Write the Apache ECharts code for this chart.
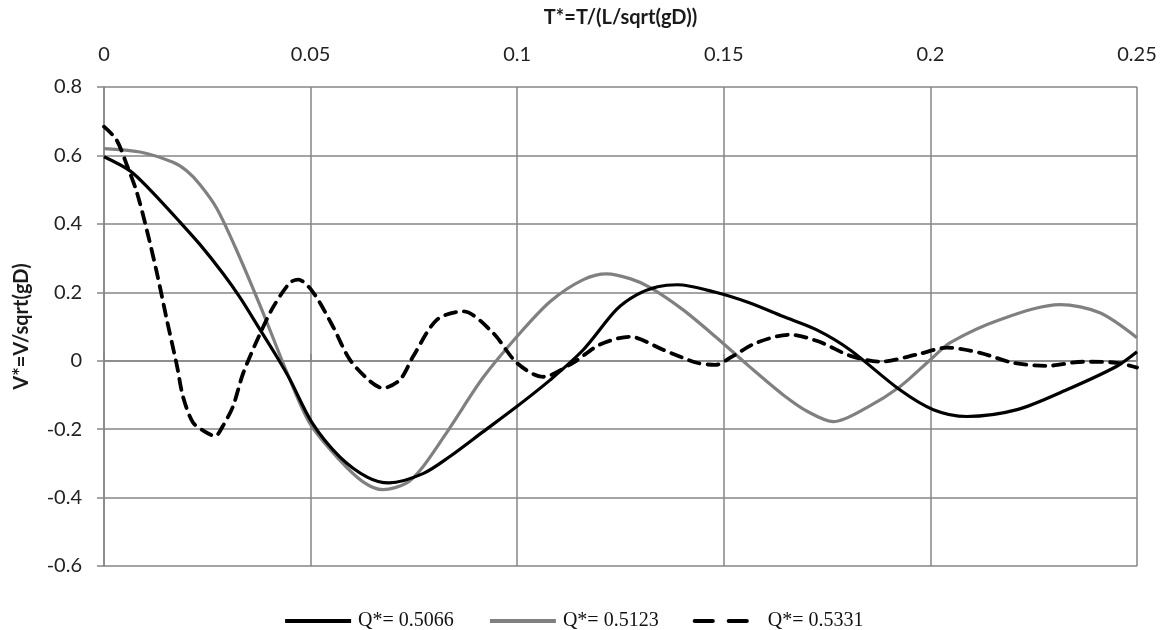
<!DOCTYPE html>
<html>
<head>
<meta charset="utf-8">
<script src="https://cdn.jsdelivr.net/npm/echarts@6/dist/echarts.min.js"></script>
<style>
html,body{margin:0;padding:0;background:#fff;}
#chart{width:1166px;height:630px;}
</style>
</head>
<body>
<div id="chart"></div>
<script>
// Axis ticks
const xTicks = [0, 0.05, 0.1, 0.15, 0.2, 0.25];
const yTicks = [-0.6, -0.4, -0.2, 0, 0.2, 0.4, 0.6, 0.8];

// Series names
const seriesNames = ['Q*= 0.5066', 'Q*= 0.5123', 'Q*= 0.5331'];

// Q* = 0.5066 (black solid)
const t1 = [0, 0.0063, 0.0111, 0.0184, 0.0232, 0.0288, 0.0329, 0.0378, 0.0419, 0.045, 0.0503, 0.057, 0.0637, 0.069, 0.0772, 0.0837, 0.0917, 0.0999, 0.108, 0.116, 0.124, 0.129, 0.134, 0.1387, 0.148, 0.156, 0.1644, 0.1725, 0.1805, 0.1926, 0.2007, 0.2088, 0.221, 0.233, 0.245, 0.25];
const v1 = [0.596, 0.555, 0.50, 0.405, 0.34, 0.255, 0.185, 0.09, 0.01, -0.055, -0.18, -0.28, -0.34, -0.357, -0.33, -0.28, -0.208, -0.134, -0.056, 0.032, 0.149, 0.193, 0.216, 0.222, 0.2, 0.17, 0.129, 0.09, 0.032, -0.085, -0.143, -0.163, -0.143, -0.085, -0.017, 0.026];

// Q* = 0.5123 (gray solid)
const t2 = [0, 0.0087, 0.0167, 0.020, 0.0232, 0.0273, 0.0322, 0.0385, 0.0443, 0.0499, 0.057, 0.0627, 0.0675, 0.0733, 0.0772, 0.0837, 0.0917, 0.0999, 0.108, 0.116, 0.1217, 0.1273, 0.132, 0.140, 0.148, 0.156, 0.1644, 0.1705, 0.1765, 0.1846, 0.1926, 0.2, 0.2048, 0.2168, 0.2314, 0.241, 0.25];
const v2 = [0.62, 0.61, 0.58, 0.555, 0.515, 0.445, 0.32, 0.14, -0.035, -0.185, -0.29, -0.354, -0.377, -0.357, -0.31, -0.196, -0.05, 0.07, 0.173, 0.237, 0.254, 0.24, 0.215, 0.15, 0.07, -0.015, -0.10, -0.15, -0.178, -0.137, -0.076, 0.003, 0.053, 0.12, 0.164, 0.14, 0.067];

// Q* = 0.5331 (black dashed)
const t3 = [0, 0.003, 0.0056, 0.008, 0.0104, 0.0128, 0.0152, 0.0177, 0.0191, 0.0215, 0.0244, 0.0269, 0.0288, 0.0312, 0.0337, 0.0378, 0.041, 0.045, 0.047, 0.0506, 0.0554, 0.0595, 0.0644, 0.0675, 0.0716, 0.0748, 0.0806, 0.0869, 0.0941, 0.0999, 0.1062, 0.1135, 0.12, 0.1273, 0.1353, 0.1435, 0.148, 0.152, 0.158, 0.166, 0.173, 0.1805, 0.1878, 0.1967, 0.204, 0.212, 0.22, 0.2282, 0.237, 0.245, 0.25];
const v3 = [0.684, 0.646, 0.57, 0.49, 0.38, 0.257, 0.12, -0.017, -0.104, -0.18, -0.207, -0.22, -0.19, -0.134, -0.036, 0.08, 0.158, 0.228, 0.237, 0.2, 0.1, 0.003, -0.06, -0.08, -0.056, 0.012, 0.12, 0.144, 0.082, -0.006, -0.047, -0.006, 0.047, 0.07, 0.032, -0.006, -0.012, 0.012, 0.053, 0.076, 0.056, 0.015, -0.003, 0.018, 0.038, 0.023, -0.006, -0.015, -0.003, -0.006, -0.02];

function pairs(ts, vs){ return ts.map((t,i)=>[t, vs[i]]); }

const gridColor = '#868686';
const labelFont = 'Lato, "Open Sans", sans-serif';
const legendFont = '"Liberation Serif", serif';
const lineColors = ['#000000', '#808080', '#000000'];
const lineTypes = ['solid', 'solid', [11, 8]];
const legendLineTypes = ['solid', 'solid', [18, 16]];

const chart = echarts.init(document.getElementById('chart'), null, {renderer:'canvas'});
chart.setOption({
  animation: false,
  backgroundColor: '#ffffff',
  grid: {left: 104, right: 29, top: 87, bottom: 64, containLabel: false},
  legend: {
    left: 278, top: 606,
    itemWidth: 66, itemHeight: 14, itemGap: 34,
    itemStyle: {opacity: 0},
    textStyle: {fontFamily: legendFont, fontSize: 20, color: '#111', padding:[0,0,0,2]},
    data: seriesNames.map((n,i)=>({name: n, itemStyle: {opacity: 0},
      lineStyle: {color: lineColors[i], width: 4.2, type: legendLineTypes[i]}}))
  },
  xAxis: {
    type: 'value', position: 'top',
    min: xTicks[0], max: xTicks[xTicks.length-1], interval: 0.05,
    name: 'T*=T/(L/sqrt(gD))', nameLocation: 'middle', nameGap: 59,
    nameTextStyle: {fontFamily: labelFont, fontSize: 20, fontWeight: 'bold', color: '#1a1a1a'},
    axisLine: {show: true, lineStyle: {color: gridColor, width: 1.5}},
    axisTick: {show: true, length: 7, lineStyle: {color: gridColor, width: 1.5}},
    axisLabel: {margin: 22, fontFamily: labelFont, fontSize: 20, color: '#222',
      formatter: v => String(+v.toFixed(2))},
    splitLine: {show: true, lineStyle: {color: gridColor, width: 1.5}}
  },
  yAxis: {
    type: 'value',
    min: yTicks[0], max: yTicks[yTicks.length-1], interval: 0.2,
    name: 'V*=V/sqrt(gD)', nameLocation: 'middle', nameGap: 72,
    nameTextStyle: {fontFamily: labelFont, fontSize: 20, fontWeight: 'bold', color: '#1a1a1a'},
    axisLine: {show: true, onZero: false, lineStyle: {color: gridColor, width: 1.5}},
    axisTick: {show: true, length: 7, lineStyle: {color: gridColor, width: 1.5}},
    axisLabel: {margin: 22, fontFamily: labelFont, fontSize: 20, color: '#222',
      formatter: v => String(+v.toFixed(1))},
    splitLine: {show: true, lineStyle: {color: gridColor, width: 1.5}}
  },
  series: [
    {name: seriesNames[0], type: 'line', data: pairs(t1, v1), smooth: 0.3, symbol: 'none',
     lineStyle: {color: lineColors[0], width: 3.2}, itemStyle: {color: lineColors[0]}, z: 3},
    {name: seriesNames[1], type: 'line', data: pairs(t2, v2), smooth: 0.3, symbol: 'none',
     lineStyle: {color: lineColors[1], width: 3.2}, itemStyle: {color: lineColors[1]}, z: 2},
    {name: seriesNames[2], type: 'line', data: pairs(t3, v3), smooth: 0.3, symbol: 'none',
     lineStyle: {color: lineColors[2], width: 3.8, type: lineTypes[2], cap: 'round'}, itemStyle: {color: lineColors[2]}, z: 4}
  ]
});
</script>
</body>
</html>
